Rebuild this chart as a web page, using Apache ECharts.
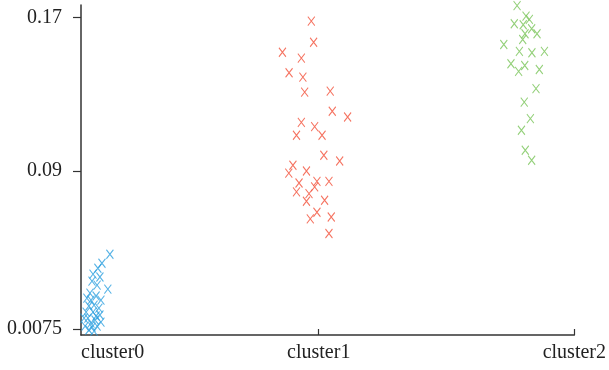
<!DOCTYPE html>
<html>
<head>
<meta charset="utf-8">
<script src="https://cdn.jsdelivr.net/npm/echarts@6/dist/echarts.min.js"></script>
<style>
  html, body { margin: 0; padding: 0; background: #fff; }
  #main { width: 609px; height: 370px; }
</style>
</head>
<body>
<div id="main"></div>
<script>
// categories and tick labels
var clusterNames = ['cluster0', 'cluster1', 'cluster2'];
var yTicks = [0.0075, 0.09, 0.17];

// points: [jittered x position, value]
var cluster0 = [
    [0.183, 0.0466], [0.152, 0.0419], [0.136, 0.0393], [0.117, 0.0362], [0.144, 0.0347],
    [0.113, 0.0326], [0.133, 0.0305], [0.175, 0.0284], [0.105, 0.0263], [0.093, 0.0237],
    [0.129, 0.0248], [0.148, 0.0227], [0.101, 0.0196], [0.121, 0.0201], [0.140, 0.0185],
    [0.090, 0.0164], [0.117, 0.0164], [0.144, 0.0149], [0.097, 0.0133], [0.125, 0.0123],
    [0.109, 0.0107], [0.086, 0.0091], [0.133, 0.0091], [0.148, 0.0112], [0.101, 0.0071],
    [0.121, 0.0065], [0.082, 0.0133], [0.109, 0.0227], [0.129, 0.0144], [0.113, 0.0086]
];
var cluster1 = [
    [0.971, 0.1681], [0.980, 0.1571], [0.858, 0.1519], [0.932, 0.1488], [0.884, 0.1412],
    [0.938, 0.1389], [0.945, 0.1311], [1.045, 0.1316], [1.053, 0.1211], [1.113, 0.1181],
    [0.932, 0.1153], [0.984, 0.1131], [0.913, 0.1086], [1.013, 0.1086], [1.020, 0.0982],
    [1.082, 0.0952], [0.899, 0.0930], [0.883, 0.0889], [0.952, 0.0900], [0.923, 0.0837],
    [0.993, 0.0846], [1.040, 0.0846], [0.984, 0.0817], [0.913, 0.0791], [0.962, 0.0782],
    [0.952, 0.0742], [1.023, 0.0747], [0.993, 0.0685], [0.967, 0.0650], [1.049, 0.0660],
    [1.040, 0.0574]
];
var cluster2 = [
    [1.776, 0.1762], [1.811, 0.1707], [1.824, 0.1690], [1.765, 0.1667], [1.800, 0.1662],
    [1.833, 0.1641], [1.807, 0.1615], [1.854, 0.1615], [1.798, 0.1585], [1.724, 0.1559],
    [1.785, 0.1523], [1.834, 0.1516], [1.883, 0.1523], [1.752, 0.1459], [1.806, 0.1450],
    [1.782, 0.1419], [1.863, 0.1429], [1.850, 0.1329], [1.804, 0.1259], [1.828, 0.1173],
    [1.793, 0.1112], [1.808, 0.1008], [1.833, 0.0956]
];
var colors = ['#2a9fdf', '#f2503a', '#78c457'];

var dom = document.getElementById('main');
var myChart = echarts.init(dom);

var textStyle = { fontFamily: 'Liberation Serif', fontSize: 20, color: '#222' };
var crossSymbol = 'path://M0,0L7,10M7,0L0,10';

function makeSeries(name, data, color) {
    return {
        name: name,
        type: 'scatter',
        data: data,
        clip: false,
        symbol: crossSymbol,
        symbolSize: [7, 9],
        itemStyle: { color: 'none', borderColor: color, borderWidth: 1.1 },
        emphasis: { disabled: true }
    };
}

var option = {
    animation: false,
    grid: { left: 81, right: 34, top: 5, bottom: 35 },
    xAxis: {
        type: 'value',
        min: 0.07,
        max: 2,
        splitLine: { show: false },
        axisLine: { lineStyle: { color: '#333', width: 1.5 } },
        axisTick: { inside: true, length: 6, customValues: [1, 2], lineStyle: { color: '#333', width: 1.2 } },
        axisLabel: {
            customValues: [0.07, 1, 2],
            alignMinLabel: 'left',
            margin: 8,
            formatter: function (v) { return clusterNames[Math.round(v)]; },
            fontFamily: textStyle.fontFamily, fontSize: textStyle.fontSize, color: textStyle.color
        }
    },
    yAxis: {
        type: 'value',
        min: 0.0045,
        max: 0.1765,
        splitLine: { show: false },
        axisLine: { show: true, lineStyle: { color: '#333', width: 1.5 } },
        axisTick: { show: true, length: 8, customValues: yTicks, lineStyle: { color: '#333', width: 1.2 } },
        axisLabel: {
            customValues: yTicks,
            margin: 19,
            formatter: function (v) { return String(v); },
            fontFamily: textStyle.fontFamily, fontSize: textStyle.fontSize, color: textStyle.color
        }
    },
    series: [
        makeSeries(clusterNames[0], cluster0, colors[0]),
        makeSeries(clusterNames[1], cluster1, colors[1]),
        makeSeries(clusterNames[2], cluster2, colors[2])
    ]
};
myChart.setOption(option);
</script>
</body>
</html>
